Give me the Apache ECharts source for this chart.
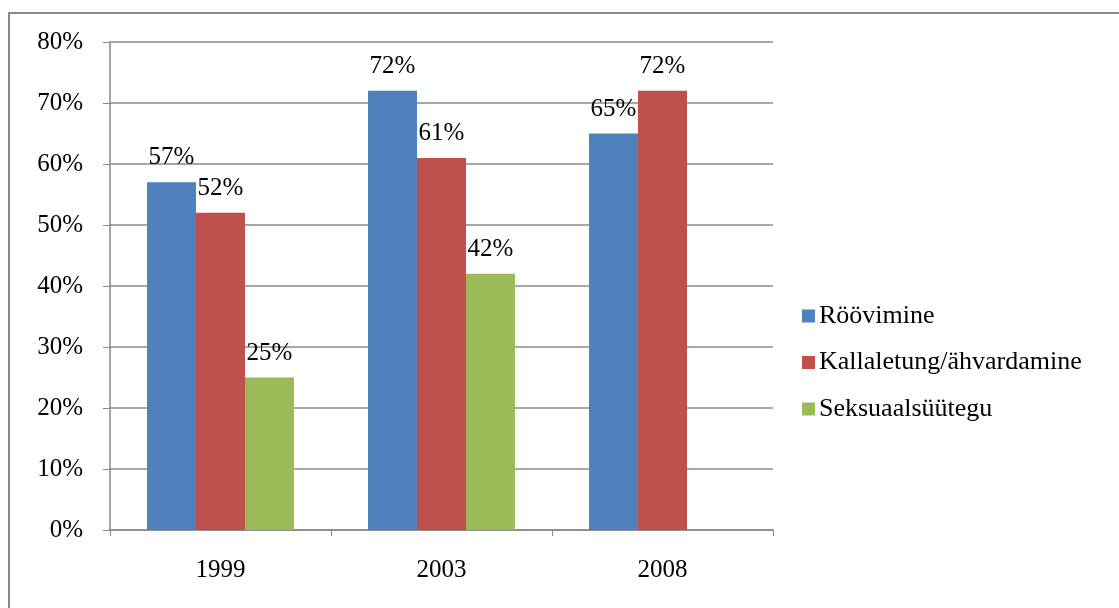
<!DOCTYPE html>
<html><head><meta charset="utf-8">
<script src="https://cdn.jsdelivr.net/npm/echarts@6/dist/echarts.min.js"></script>
<style>html,body{margin:0;padding:0;background:#fff}#c{width:1119px;height:608px}</style>
</head><body><div id="c"></div>
<script>
const categories = ['1999', '2003', '2008'];
const seriesNames = ['Röövimine', 'Kallaletung/ähvardamine', 'Seksuaalsüütegu'];
const robbery = [57, 72, 65];
const assault = [52, 61, 72];
const sexual = [25, 42, null];
const yTicks = [0, 10, 20, 30, 40, 50, 60, 70, 80];

const colors = ['#4F81BD', '#C0504D', '#9BBB59'];
const font = 'Liberation Serif, Times New Roman, serif';
const chart = echarts.init(document.getElementById('c'));
function mk(name, data, color) {
  return {
    name, type: 'bar', data, barGap: '0%', barCategoryGap: '33.5%',
    itemStyle: { color },
    label: { show: true, position: 'top', distance: 12, formatter: p => p.value + '%',
      color: '#000', fontFamily: font, fontSize: 25 }
  };
}
chart.setOption({
  animation: false,
  backgroundColor: '#fff',
  textStyle: { fontFamily: font },
  graphic: [{ type: 'rect', shape: { x: 9, y: 13, width: 1200, height: 700 },
    style: { fill: 'none', stroke: '#8a8a8a', lineWidth: 2 }, silent: true }],
  grid: { left: 110, right: 346, top: 42, bottom: 78 },
  legend: {
    orient: 'vertical', left: 797, top: 298, itemWidth: 13, itemHeight: 13, itemGap: 20.5,
    icon: 'rect', data: seriesNames,
    textStyle: { fontFamily: font, fontSize: 26, color: '#000', padding: [0, 0, 0, -1] }
  },
  xAxis: {
    type: 'category', data: categories,
    axisLine: { lineStyle: { color: '#888', width: 1.5 } },
    axisTick: { show: true, length: 6, lineStyle: { color: '#888' } },
    axisLabel: { color: '#000', fontFamily: font, fontSize: 25, margin: 28 }
  },
  yAxis: {
    type: 'value', min: yTicks[0], max: yTicks[yTicks.length - 1], interval: 10,
    axisLine: { show: true, lineStyle: { color: '#888', width: 1.5 } },
    axisTick: { show: true, length: 7, inside: false, lineStyle: { color: '#888' } },
    axisLabel: { color: '#000', fontFamily: font, fontSize: 25, margin: 27, formatter: v => v + '%' },
    splitLine: { lineStyle: { color: '#8a8a8a', width: 1.5 } }
  },
  series: [mk(seriesNames[0], robbery, colors[0]), mk(seriesNames[1], assault, colors[1]), mk(seriesNames[2], sexual, colors[2])]
});
</script></body></html>
